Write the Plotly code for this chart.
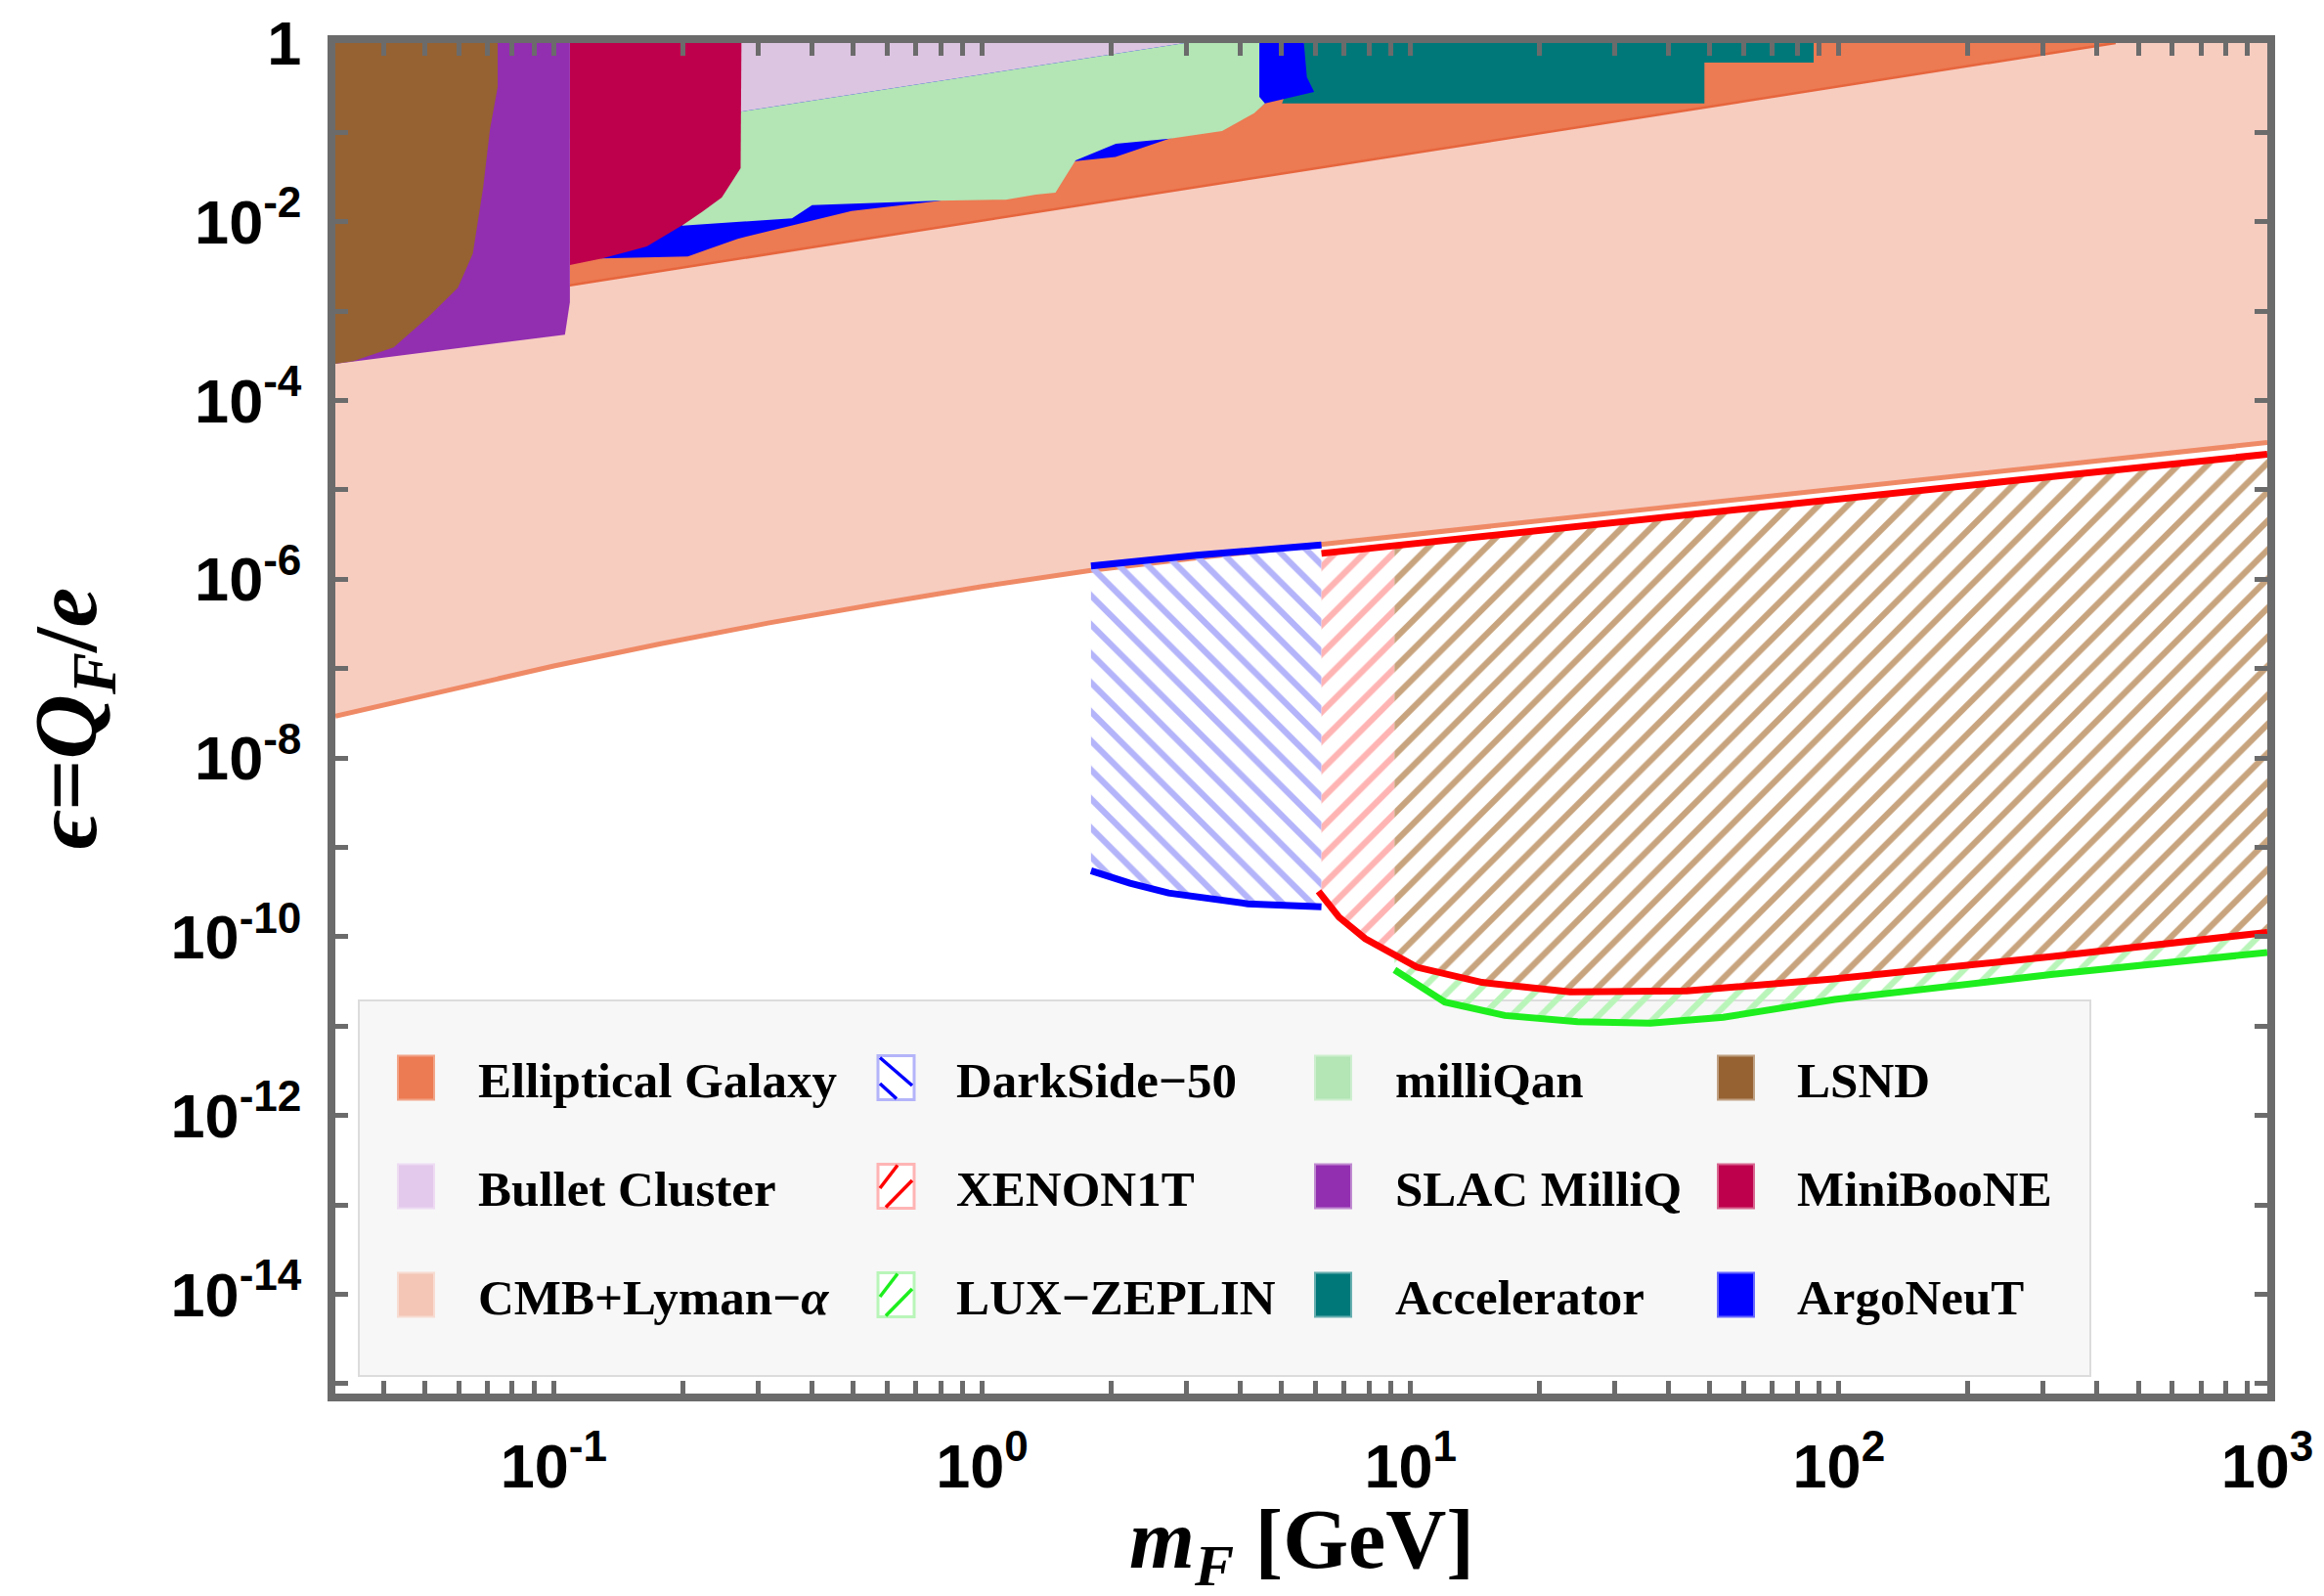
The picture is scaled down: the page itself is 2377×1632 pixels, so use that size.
import numpy as np
import plotly.graph_objects as go

# ------------------------------------------------------------------
# DATA  (log10 of m_F [GeV]  and  log10 of epsilon)
# ------------------------------------------------------------------
# CMB + Lyman-alpha band
cmb_lower_log_m = [-1.51, -1.25, -1.0, -0.75, -0.5, -0.25, 0.0, 0.254, 0.5, 0.79, 1.3, 1.82, 2.4, 3.0]
cmb_lower_log_eps = [-7.53, -7.24, -6.97, -6.72, -6.49, -6.28, -6.08, -5.90, -5.76, -5.61,
                     -5.35, -5.08, -4.78, -4.47]
cmb_upper_log_m = [-1.51, 2.646]
cmb_upper_log_eps = [-3.12, 0.0]

# Elliptical galaxy
ellip_log_m = [-0.9625, 2.646, -0.9625]
ellip_log_eps = [-2.71, 0.0, 0.0]

# Bullet cluster
bullet_log_m = [-0.97, 0.473, -0.97]
bullet_log_eps = [-1.07, 0.0, 0.0]

# milliQan
milliqan_log_m = [-0.70, -0.444, -0.397, -0.107, 0.055, 0.125, 0.171, 0.218, 0.312,
                  0.439, 0.560, 0.635, 0.660, 0.647, 0.647, 0.473, -0.70]
milliqan_log_eps = [-2.044, -1.960, -1.814, -1.763, -1.752, -1.697, -1.675, -1.314, -1.128,
                    -1.070, -0.985, -0.785, -0.676, -0.602, 0.0, 0.0, -0.868]

# ArgoNeuT
argoneut_log_m = [-0.89, -0.687, -0.571, -0.305, -0.107, 0.10, 0.218, 0.311, 0.4385,
                  0.55, 0.636, 0.66, 0.775, 0.758, 0.751, -0.89]
argoneut_log_eps = [-2.41, -2.387, -2.19, -1.88, -1.77, -1.62, -1.32, -1.276, -1.068,
                    -0.95, -0.765, -0.675, -0.547, -0.383, 0.0, 0.0]

# Accelerator
accel_log_m = [0.751, 1.941, 1.941, 1.686, 1.686, 0.70]
accel_log_eps = [0.0, 0.0, -0.219, -0.219, -0.676, -0.676]

# MiniBooNE
mini_log_m = [-0.9625, -0.562, -0.564, -0.608, -0.655, -0.696, -0.783, -0.887, -0.9625]
mini_log_eps = [0.0, 0.0, -1.40, -1.73, -1.894, -2.026, -2.277, -2.41, -2.485]

# SLAC MilliQ
slac_log_m = [-1.51, -0.9625, -0.9625, -0.974, -1.51]
slac_log_eps = [0.0, 0.0, -2.90, -3.263, -3.588]

# LSND
lsnd_log_m = [-1.51, -1.131, -1.131, -1.149, -1.165, -1.189, -1.224, -1.2935, -1.374, -1.468, -1.51]
lsnd_log_eps = [0.0, 0.0, -0.493, -0.9635, -1.62, -2.354, -2.737, -3.066, -3.405, -3.559, -3.588]

# DarkSide-50
ds_top_log_m = [0.254, 0.5, 0.792]
ds_top_log_eps = [-5.85, -5.73, -5.615]
ds_bot_log_m = [0.254, 0.345, 0.435, 0.62, 0.792]
ds_bot_log_eps = [-9.26, -9.40, -9.51, -9.63, -9.665]

# XENON1T
xe_top_log_m = [0.792, 1.3, 1.816, 2.4, 3.0]
xe_top_log_eps = [-5.71, -5.45, -5.19, -4.90, -4.60]
xe_bot_log_m = [0.785, 0.833, 0.894, 1.015, 1.167, 1.372, 1.645, 1.987, 2.5, 3.0]
xe_bot_log_eps = [-9.49, -9.78, -10.02, -10.34, -10.51, -10.615, -10.606, -10.47, -10.22, -9.95]

# LUX-ZEPLIN
lz_log_m = [0.9625, 1.08, 1.22, 1.39, 1.56, 1.73, 1.99, 2.5, 3.0]
lz_log_eps = [-10.37, -10.73, -10.88, -10.95, -10.965, -10.90, -10.70, -10.42, -10.175]

# axis ticks
y_label_exps = list(range(-14, 1, 2))
y_minor_exps = list(range(-15, 0, 2))
x_tick_decades = [-2, -1, 0, 1, 2, 3]

# ------------------------------------------------------------------
# COLORS / STYLE
# ------------------------------------------------------------------
C_ELLIP = "#EC7A52"
C_BULLET = "#DCC5E1"
C_CMB = "#F7CDC0"
C_CMB_LINE = "#EF8A66"
C_ELLIP_LINE = "#E6653D"
C_MILLIQAN = "#B3E5B5"
C_SLAC = "#922EB0"
C_ACCEL = "#00787A"
C_LSND = "#966232"
C_MINI = "#BE004C"
C_ARGO = "#0000FF"
C_DS = "#0000FF"
C_DS_H = "#B4B4FA"
C_XE = "#FF0000"
C_XE_H = "#FFB4B4"
C_LZ = "#1EEE1E"
C_LZ_H = "#B9F5B9"
C_TAN_H = "#C8A47E"
FRAME = "#6B6B6B"

# The page body has an 8 px default margin, so the figure is shrunk by that amount
OFF = 8
W, H = 2377 - OFF, 1632 - OFF
L, R, T, B = 343 - OFF, 58, 44 - OFF, 207
PW, PH = W - L - R, H - T - B
HATCH_SIZE, HATCH_SOLID = 21, 0.3


def px2paper(px, py):
    """window pixel -> paper coordinates"""
    return (px - OFF - L) / PW, (H - B - (py - OFF)) / PH


def P(m, e):
    return 10 ** np.asarray(m, float), 10 ** np.asarray(e, float)


def band(top_m, top_e, bot_m, bot_e, lo, hi):
    inner = [v for v in list(top_m) + list(bot_m) if lo < v < hi]
    xs = np.unique(np.array([lo, hi] + inner, float))
    top = np.interp(xs, top_m, top_e)
    bot = np.interp(xs, bot_m, bot_e)
    m = np.concatenate([xs, xs[::-1]])
    e = np.concatenate([top, bot[::-1]])
    return m, e


fig = go.Figure()


def add_poly(m, e, color, name):
    x, y = P(m, e)
    fig.add_trace(go.Scatter(x=x, y=y, mode="lines", fill="toself", fillcolor=color,
                             line=dict(width=0, color=color), hoverinfo="skip",
                             showlegend=False, name=name))


def add_hatch(m, e, fg, shape, name):
    x, y = P(m, e)
    fig.add_trace(go.Scatter(x=x, y=y, mode="lines", fill="toself",
                             fillcolor="rgba(0,0,0,0)",
                             fillpattern=dict(shape=shape, fgcolor=fg, bgcolor="rgba(0,0,0,0)",
                                              size=HATCH_SIZE, solidity=HATCH_SOLID,
                                              fillmode="replace"),
                             line=dict(width=0, color="rgba(0,0,0,0)"), hoverinfo="skip",
                             showlegend=False, name=name))


def add_line(m, e, color, width, name):
    x, y = P(m, e)
    fig.add_trace(go.Scatter(x=x, y=y, mode="lines", line=dict(color=color, width=width),
                             hoverinfo="skip", showlegend=False, name=name))


# CMB band polygon: lower curve, right edge to top, then down the upper line
cmb_m = cmb_lower_log_m + [3.0, cmb_upper_log_m[1], cmb_upper_log_m[0]]
cmb_e = cmb_lower_log_eps + [0.0, cmb_upper_log_eps[1], cmb_upper_log_eps[0]]
add_poly(cmb_m, cmb_e, C_CMB, "CMB+Lyman-α")
add_line(cmb_lower_log_m, cmb_lower_log_eps, C_CMB_LINE, 5, "CMB lower")

add_poly(ellip_log_m, ellip_log_eps, C_ELLIP, "Elliptical Galaxy")
add_line(ellip_log_m[:2], ellip_log_eps[:2], C_ELLIP_LINE, 2.5, "Elliptical edge")

add_poly(accel_log_m, accel_log_eps, C_ACCEL, "Accelerator")
add_poly(argoneut_log_m, argoneut_log_eps, C_ARGO, "ArgoNeuT")
add_poly(bullet_log_m, bullet_log_eps, C_BULLET, "Bullet Cluster")
add_poly(milliqan_log_m, milliqan_log_eps, C_MILLIQAN, "milliQan")
add_poly(mini_log_m, mini_log_eps, C_MINI, "MiniBooNE")
add_poly(slac_log_m, slac_log_eps, C_SLAC, "SLAC MilliQ")
add_poly(lsnd_log_m, lsnd_log_eps, C_LSND, "LSND")

# hatched direct-detection regions
m, e = band(ds_top_log_m, ds_top_log_eps, ds_bot_log_m, ds_bot_log_eps, ds_top_log_m[0], ds_top_log_m[-1])
add_hatch(m, e, C_DS_H, "\\", "DarkSide-50")
split = lz_log_m[0]
m, e = band(xe_top_log_m, xe_top_log_eps, xe_bot_log_m, xe_bot_log_eps, xe_top_log_m[0], split)
add_hatch(m, e, C_XE_H, "/", "XENON1T")
m, e = band(xe_top_log_m, xe_top_log_eps, xe_bot_log_m, xe_bot_log_eps, split, xe_top_log_m[-1])
add_hatch(m, e, C_TAN_H, "/", "XENON1T & LZ")
m, e = band(xe_bot_log_m, xe_bot_log_eps, lz_log_m, lz_log_eps, split, lz_log_m[-1])
add_hatch(m, e, C_LZ_H, "/", "LUX-ZEPLIN")

add_line(ds_top_log_m, ds_top_log_eps, C_DS, 7, "DarkSide top")
add_line(ds_bot_log_m, ds_bot_log_eps, C_DS, 7, "DarkSide bottom")
add_line(lz_log_m, lz_log_eps, C_LZ, 7, "LZ")
add_line(xe_top_log_m, xe_top_log_eps, C_XE, 7, "XENON top")
add_line(xe_bot_log_m, xe_bot_log_eps, C_XE, 7, "XENON bottom")

# ------------------------------------------------------------------
# AXES
# ------------------------------------------------------------------
y_tickvals = [10.0 ** k for k in y_label_exps]
y_ticktext = ["1" if k == 0 else "10<sup>%d</sup>" % k for k in y_label_exps]
y_minorvals = [10.0 ** k for k in y_minor_exps]

x_tickvals, x_ticktext, x_minorvals = [], [], []
for k in x_tick_decades:
    for d in range(1, 10):
        v = d * 10.0 ** k
        if 10 ** -1.51 <= v <= 1000.0001:
            if d == 1:
                x_tickvals.append(v)
                x_ticktext.append("10<sup>%d</sup>" % k)
            else:
                x_minorvals.append(v)

tickfont = dict(family="Liberation Sans", size=63, color="black", weight="bold")
axis_common = dict(type="log", showgrid=False, zeroline=False, showline=True, linecolor=FRAME,
                   linewidth=8, mirror="ticks", ticks="inside", ticklen=13, tickwidth=5,
                   tickcolor=FRAME, tickfont=tickfont)
minor_common = dict(ticks="inside", ticklen=13, tickwidth=5, tickcolor=FRAME, showgrid=False)

fig.update_xaxes(range=[-1.51, 3.0], tickmode="array", tickvals=x_tickvals, ticktext=x_ticktext,
                 minor=dict(tickmode="array", tickvals=x_minorvals, **minor_common),
                 ticklabelstandoff=12, **axis_common)
fig.update_yaxes(range=[-15.11, 0.0], tickmode="array", tickvals=y_tickvals, ticktext=y_ticktext,
                 minor=dict(tickmode="array", tickvals=y_minorvals, **minor_common),
                 ticklabelstandoff=14,
                 title=dict(text="<i>ϵ</i>=<i>Q</i><sub><i>F</i></sub>/<i>e</i>", standoff=48,
                            font=dict(family="Liberation Serif", size=92, color="black",
                                      weight="bold")),
                 **axis_common)

shapes = []
annotations = []

# x-axis title, placed explicitly below the tick labels
xt_x, xt_y = px2paper(1331, 1580)
annotations.append(dict(text="<i>m</i><sub><i>F</i></sub> [GeV]", xref="paper", yref="paper",
                        x=0.5, y=xt_y, xanchor="center", yanchor="middle", showarrow=False,
                        font=dict(family="Liberation Serif", size=86, color="black",
                                  weight="bold")))

# ------------------------------------------------------------------
# LEGEND (drawn by hand to match the 4 x 3 layout); positions in window pixels
# ------------------------------------------------------------------
bx0, by0 = px2paper(367, 1023)
bx1, by1 = px2paper(2138, 1407)
shapes.append(dict(type="rect", xref="paper", yref="paper", x0=bx0, y0=by1, x1=bx1, y1=by0,
                   fillcolor="#F7F7F7", line=dict(color="#DCDCDC", width=2), layer="below"))

legend_cols_sym_x = [407, 898, 1345, 1757]
legend_cols_txt_x = [487, 976, 1425, 1836]
legend_rows_y = [1102, 1213, 1324]
legend_items = [
    [("Elliptical Galaxy", "solid", C_ELLIP, "#F2A488"),
     ("Bullet Cluster", "solid", "#E3C9EB", "#EEDCF3"),
     ("CMB+Lyman−<i>α</i>", "solid", "#F4C6B6", "#F8DCD2")],
    [("DarkSide−50", "\\", C_DS, C_DS_H),
     ("XENON1T", "/", C_XE, C_XE_H),
     ("LUX−ZEPLIN", "/", C_LZ, C_LZ_H)],
    [("milliQan", "solid", C_MILLIQAN, "#CDEFCE"),
     ("SLAC MilliQ", "solid", C_SLAC, "#C08AD0"),
     ("Accelerator", "solid", C_ACCEL, "#66AEAF")],
    [("LSND", "solid", C_LSND, "#BFA082"),
     ("MiniBooNE", "solid", C_MINI, "#D86690"),
     ("ArgoNeuT", "solid", C_ARGO, "#6666FF")],
]
SW, SH = 37, 45
for ci, col in enumerate(legend_items):
    for ri, (label, kind, c1, c2) in enumerate(col):
        sx, sy = legend_cols_sym_x[ci], legend_rows_y[ri]
        x0, y0 = px2paper(sx, sy - SH / 2)
        x1, y1 = px2paper(sx + SW, sy + SH / 2)
        if kind == "solid":
            shapes.append(dict(type="rect", xref="paper", yref="paper", x0=x0, y0=y1, x1=x1, y1=y0,
                               fillcolor=c1, line=dict(color=c2, width=2), layer="below"))
        else:
            shapes.append(dict(type="rect", xref="paper", yref="paper", x0=x0, y0=y1, x1=x1, y1=y0,
                               fillcolor="white", line=dict(color=c2, width=3), layer="below"))
            if kind == "\\":
                segs = [((sx + 2, sy - SH / 2 + 2), (sx + SW - 2, sy + 8)),
                        ((sx + 2, sy + 6), (sx + 19, sy + SH / 2 - 1))]
            else:
                segs = [((sx + 2, sy + 2), (sx + 20, sy - SH / 2 + 1)),
                        ((sx + 8, sy + SH / 2 - 1), (sx + SW - 2, sy - 6))]
            for (ax_, ay_), (bx_, by_) in segs:
                p0 = px2paper(ax_, ay_)
                p1 = px2paper(bx_, by_)
                shapes.append(dict(type="line", xref="paper", yref="paper", x0=p0[0], y0=p0[1],
                                   x1=p1[0], y1=p1[1], line=dict(color=c1, width=3.5),
                                   layer="below"))
        tx, ty = px2paper(legend_cols_txt_x[ci], sy + 3)
        annotations.append(dict(text=label, xref="paper", yref="paper", x=tx, y=ty,
                                xanchor="left", yanchor="middle", showarrow=False,
                                font=dict(family="Liberation Serif", size=51, color="black",
                                          weight="bold")))

fig.update_layout(width=W, height=H, margin=dict(l=L, r=R, t=T, b=B, autoexpand=False),
                  paper_bgcolor="white", plot_bgcolor="white", showlegend=False,
                  shapes=shapes, annotations=annotations)

fig.write_html("out.html")
